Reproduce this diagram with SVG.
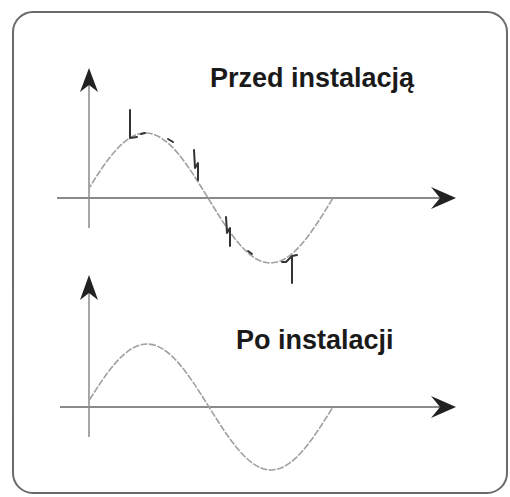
<svg xmlns="http://www.w3.org/2000/svg" width="510" height="497" viewBox="0 0 510 497">
<style>
.frame{fill:#fff;stroke:#6a6a6a;stroke-width:2}
.axis{stroke:#8a8a8a;stroke-width:2;fill:none}
.yaxis{stroke:#8a8a8a;stroke-width:1.5;fill:none}
.head{fill:#222}
.wave{stroke:#a0a0a0;stroke-width:1.6;fill:none;stroke-dasharray:7 1.5}
.spike{stroke:#333;stroke-width:2;fill:none;stroke-linejoin:round;stroke-linecap:round}
.lbl{font-family:"Liberation Sans",Arial,sans-serif;font-weight:bold;font-size:27px;fill:#1a1a1a}
</style>
<defs>
<clipPath id="c1"><rect x="89" y="60" width="300" height="220"/></clipPath>
<clipPath id="c2"><rect x="89" y="300" width="300" height="190"/></clipPath>
</defs>
<rect class="frame" x="13" y="12" width="494" height="481" rx="20"/>
<g id="chart-before">
<line class="axis" x1="57" y1="198" x2="440" y2="198"/>
<polygon class="head" points="456,198 431,187 440,198 431,209"/>
<line class="yaxis" x1="89" y1="228" x2="89" y2="84"/>
<polygon class="head" points="89,68 98,92 89,85 80,92"/>
<path class="wave" clip-path="url(#c1)" d="M83,198 C103.4,164.7 122.9,133 145.5,133 C168.1,133 187.6,164.7 208,198 C228.4,231.3 247.9,263 270.5,263 C293.1,263 312.6,231.3 333,198"/>
<g id="spikes">
<path class="spike" d="M130,110 L130,138 L137,137"/>
<path class="spike" d="M141,134 L145,133"/>
<path class="spike" d="M168,139 L173,142"/>
<path class="spike" d="M194,150 L195,168 L198,163 L198,180"/>
<path class="spike" d="M226,217 L227,233 L230,228 L230,246"/>
<path class="spike" d="M248,251 L252,254"/>
<path class="spike" d="M282,262 L286,262 L292,256 L297,255 M292,257 L292,283"/>
</g>
<text class="lbl" x="210" y="87">Przed instalacją</text>
</g>
<g id="chart-after">
<line class="axis" x1="60" y1="407" x2="440" y2="407"/>
<polygon class="head" points="456,407 431,396 440,407 431,418"/>
<line class="yaxis" x1="89" y1="437" x2="89" y2="292"/>
<polygon class="head" points="89,275 98,300 89,293 80,300"/>
<path class="wave" clip-path="url(#c2)" d="M85,407 C105.2,374.7 124.6,344 147,344 C169.4,344 188.8,374.7 209,407 C229.2,439.3 248.6,470 271,470 C293.4,470 312.8,439.3 333,407"/>
<text class="lbl" x="236" y="349">Po instalacji</text>
</g>
</svg>
